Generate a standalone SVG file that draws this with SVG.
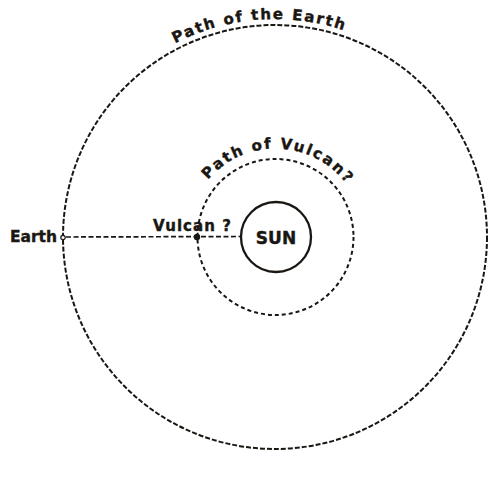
<svg xmlns="http://www.w3.org/2000/svg" width="500" height="488" viewBox="0 0 500 488">
<style>
.orbit{fill:none;stroke:#1a1612;stroke-width:2}
.lbl{font-family:"DejaVu Sans","Liberation Sans",Arial,sans-serif;font-weight:bold;fill:#1a1612;stroke:#1a1612;stroke-width:0.4}
</style>
<defs>
<path id="earthArc" d="M57,237 A218,218 0 0 1 493,237"/>
<path id="vulcanArc" d="M187,237 A88.5,88.5 0 0 1 364,237"/>
</defs>
<rect width="500" height="488" fill="#ffffff"/>
<g id="connectors">
<line x1="66" y1="237" x2="241" y2="236.5" stroke="#1a1612" stroke-width="1.7" stroke-dasharray="5 2.5"/>
</g>
<g id="earth-orbit">
<circle class="orbit" cx="275" cy="237" r="212" stroke-dasharray="5 2"/>
<text class="lbl" font-size="15" letter-spacing="1.8"><textPath href="#earthArc" startOffset="326" text-anchor="middle">Path of the Earth</textPath></text>
</g>
<g id="vulcan-orbit">
<circle class="orbit" cx="275.5" cy="237" r="78" stroke-dasharray="4 3"/>
<text class="lbl" font-size="15" letter-spacing="1.9"><textPath href="#vulcanArc" startOffset="142" text-anchor="middle">Path of Vulcan?</textPath></text>
</g>
<g id="sun">
<circle cx="276" cy="237" r="35" fill="#ffffff" stroke="#1a1612" stroke-width="2.3"/>
<text class="lbl" x="276" y="243.5" font-size="17" text-anchor="middle">SUN</text>
</g>
<g id="earth">
<circle cx="63" cy="237.5" r="2.2" fill="#ffffff" stroke="#1a1612" stroke-width="1.2"/>
<text class="lbl" x="10" y="242" font-size="15.5" textLength="47" lengthAdjust="spacing">Earth</text>
</g>
<g id="vulcan">
<circle cx="197" cy="237" r="3.2" fill="#1a1612"/>
<text class="lbl" x="153" y="231" font-size="15" textLength="78" lengthAdjust="spacing">Vulcan ?</text>
</g>
</svg>
